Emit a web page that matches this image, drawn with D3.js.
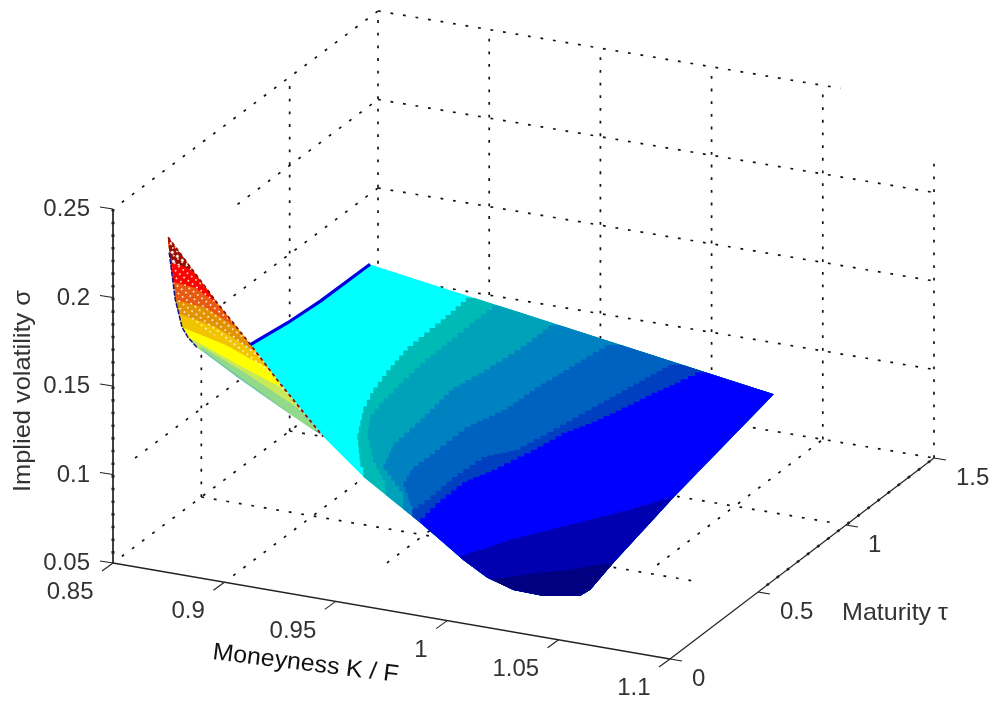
<!DOCTYPE html>
<html>
<head>
<meta charset="utf-8">
<script src="https://cdn.jsdelivr.net/npm/d3@7/dist/d3.min.js"></script>
<style>
html,body{margin:0;padding:0;background:#fff}
svg{display:block;filter:blur(.45px)}
text{font-family:"Liberation Sans",Arial,sans-serif;font-size:24px;fill:#333}
</style>
</head>
<body>
<script>
// ---- axis values
const moneynessTicks = [0.85, 0.9, 0.95, 1, 1.05, 1.1];
const maturityTicks = [0, 0.5, 1, 1.5];
const volTicks = [0.05, 0.1, 0.15, 0.2, 0.25];
const moneynessLabels = ["0.85", "0.9", "0.95", "1", "1.05", "1.1"];
const maturityLabels = ["0", "0.5", "1", "1.5"];
const volLabels = ["0.05", "0.1", "0.15", "0.2", "0.25"];

// ---- extent of the dotted grid lines as they appear in the picture
const floorKRange = [[0.9, 0.05, 1.5], [0.95, 0.29, 1.5], [1, 0.5, 1.5], [1.05, 0.56, 1.5]];
const floorTauRange = [[0.5, 0.85, 1.072], [1, 0.85, 1.096], [1.5, 0.85, 1.1]];
const leftWallVolRange = [[0.05, 0.05, 1.5], [0.1, 0.125, 1.5], [0.15, 0.625, 1.5], [0.2, 0.705, 1.5], [0.25, 0.05, 1.5]];
const leftWallTauRange = [[0.5, 0.05, 0.135], [1, 0.05, 0.25], [1.5, 0.05, 0.25]];
const backWallVolRange = [[0.1, 0.85, 1.1], [0.15, 0.85, 1.1], [0.2, 0.85, 1.1], [0.25, 0.85, 1.058]];
const backWallKRange = [[0.9, 0.05, 0.25], [0.95, 0.05, 0.25], [1, 0.05, 0.25], [1.05, 0.05, 0.25], [1.1, 0.05, 0.2204]];

// ---- surface outline: [moneyness, maturity, vol]
const sheetEdge = [[0.85,0.778,0.1154],[0.85,0.989,0.112],[0.85,1.176,0.1104],[0.85,1.455,0.1103],[1.0315,1.455,0.075],
  [1.0383,0.8,0.0675],[1.043,0.4,0.0618],[1.0421,0.28,0.0554],[1.0424,0.22,0.0566],[1.0274,0.2,0.0548],[1.0178,0.15,0.0599],
  [1.0101,0.1,0.0688],[0.9993,0.1,0.0766],[0.989,0.1,0.0857],[0.98,0.1,0.0934],[0.9544,0.1,0.1139],[0.9364,0.1,0.1326],[0.8796,0.5576,0.118]];
const wingEdge = [[0.8668,0.1,0.2302],[0.8673,0.1,0.2217],[0.87,0.1,0.1958],[0.8731,0.1,0.1806],[0.8758,0.1,0.1755],[0.8798,0.1,0.1707],[0.8991,0.1,0.1568],
  [0.9185,0.1,0.144],[0.9364,0.1,0.1326],[0.8796,0.5576,0.118],[0.85,0.778,0.1154],[0.85,0.5909,0.1527]];
const smileFarEdge = [[0.8668,0.1,0.2302],[0.85,0.5909,0.1527],[0.85,0.778,0.1154],[0.8796,0.5576,0.118],[0.9364,0.1,0.1326]];
const smileNearEdge = [[0.8673,0.1,0.2217],[0.87,0.1,0.1958],[0.8731,0.1,0.1806],[0.8758,0.1,0.1755],[0.8798,0.1,0.1707]];
const longEndEdge = [[0.85,0.778,0.1154],[0.85,0.989,0.112],[0.85,1.176,0.1104],[0.85,1.455,0.1103]];

// ---- colour bands on the sheet: iso-vol levels, [moneyness, maturity]
const sheetLevels = [0.101, 0.0985, 0.0933, 0.0886, 0.0834, 0.0806, 0.0675, 0.0618];
const sheetColors = ["#00ffff", "#00bab6", "#00a2ba", "#0082c0", "#0062c0", "#0040c0", "#0000ff", "#0000b0", "#000080"];
const iso1010 = [[0.8954,1.4539],[0.897,1.2631],[0.898,1.063],[0.9015,0.9226],[0.9064,0.7638],[0.9124,0.6309],[0.9233,0.4592],[0.9375,0.2971],[0.9434,0.2391]];
const iso0985 = [[0.907,1.4605],[0.9071,1.363],[0.9079,1.2224],[0.9082,1.0653],[0.9104,0.8838],[0.9128,0.7402],[0.9162,0.6225],[0.9248,0.4969],[0.9381,0.3624],[0.9542,0.2282]];
const iso0933 = [[0.9328,1.4534],[0.9328,1.2655],[0.9304,1.0857],[0.9276,0.9499],[0.9315,0.7131],[0.9333,0.5377],[0.9408,0.3863],[0.9611,0.2421]];
const iso0886 = [[0.9593,1.442],[0.957,1.3001],[0.954,1.111],[0.953,0.9353],[0.9477,0.7922],[0.9479,0.6197],[0.9477,0.4688],[0.9523,0.3542],[0.9677,0.2106]];
const iso0834 = [[0.9875,1.4424],[0.9835,1.2654],[0.9801,1.105],[0.9761,0.9055],[0.9727,0.7605],[0.964,0.6828],[0.9627,0.5287],[0.964,0.3594],[0.9637,0.2608]];
const iso0806 = [[0.9996,1.4542],[0.9964,1.3698],[0.9928,1.2843],[0.9899,1.1855],[0.9849,1.0434],[0.9793,0.9444],[0.9765,0.8087],[0.9716,0.644],[0.9664,0.5389],[0.9667,0.3818],[0.9691,0.2382]];
const iso0675 = [[1.0383,0.8001],[1.0295,0.6844],[1.0197,0.5809],[1.0099,0.4775],[1.0001,0.374],[0.994,0.2811],[0.9895,0.2079]];
const iso0618 = [[1.043,0.4004],[1.0317,0.3153],[1.0211,0.2621],[1.0132,0.2091],[1.0062,0.1665]];
const sheetContours = [iso1010, iso0985, iso0933, iso0886, iso0834, iso0806, iso0675, iso0618];

// ---- colour bands on the short-dated wing: [moneyness, maturity, vol]
const wingBase = "#6ec8a8";
const wingColors = ["#92d98a", "#c8ea5a", "#ffff00", "#f2c400", "#e39200", "#e85a10", "#ff0000", "#9a0a00"];
const wingA = [[0.8834,0.1,0.1692],[0.9002,0.2,0.1427],[0.9157,0.3,0.117]];
const wingB = [[0.8825,0.1,0.1713],[0.8926,0.2,0.1524],[0.9103,0.3,0.1272]];
const wingC = [[0.878,0.1,0.1749],[0.8912,0.2,0.1554],[0.9036,0.3,0.137]];
const wingD = [[0.8722,0.1,0.1809],[0.8845,0.2,0.1659],[0.8968,0.3,0.1469]];
const wingE = [[0.8704,0.1,0.1884],[0.88,0.2,0.1751],[0.8887,0.3,0.1565]];
const wingF = [[0.8695,0.1,0.1956],[0.8755,0.2,0.1849],[0.8811,0.3,0.1678]];
const wingLevelG = [[0.8682,0.1,0.2056],[0.871,0.2,0.1952],[0.8752,0.3,0.1779]];
const wingH = [[0.8664,0.1,0.2165],[0.8719,0.2,0.2045]];
const wingContours = [wingA, wingB, wingC, wingD, wingE, wingF, wingLevelG, wingH];
const meshHoleEdge = [[0.8708,0.1,0.1886],[0.8881,0.2,0.1655],[0.8982,0.3,0.1415],[0.9202,0.3,0.1146]];

// ---- projection of the MATLAB view, built from d3 scales
const W = 994, H = 706;
const xFront = d3.scaleLinear().domain([0.85, 1.1]).range([113, 670]);
const xBack  = d3.scaleLinear().domain([0.85, 1.1]).range([378, 934]);
const yFront = d3.scaleLinear().domain([0.85, 1.1]).range([563, 659]);
const yBack  = d3.scaleLinear().domain([0.85, 1.1]).range([365, 458]);
const tauT   = d3.scaleLinear().domain([0, 1.5]).range([0, 1]);
const volDy  = d3.scaleLinear().domain([0.05, 0.25]).range([0, -354]);
function proj(K, tau, vol) {
  const t = tauT(tau);
  return [d3.interpolateNumber(xFront(K), xBack(K))(t),
          d3.interpolateNumber(yFront(K), yBack(K))(t) + volDy(vol)];
}
const P = p => proj(p[0], p[1], p[2]);

const svg = d3.select("body").append("svg").attr("width", W).attr("height", H);
const defs = svg.append("defs");
const poly = d3.line();
const closed = pts => poly(pts) + "Z";

// ---- grid
const gridLayer = svg.append("g").attr("fill", "none").attr("stroke", "#111")
  .attr("stroke-width", 1.7).attr("stroke-dasharray", "2.8 9.87");
function dotted(a, b) { gridLayer.append("path").attr("d", poly([a, b])); }
floorKRange.forEach(([k, a, b]) => dotted(proj(k, a, 0.05), proj(k, b, 0.05)));
floorTauRange.forEach(([t, a, b]) => dotted(proj(a, t, 0.05), proj(b, t, 0.05)));
leftWallVolRange.forEach(([v, a, b]) => dotted(proj(0.85, a, v), proj(0.85, b, v)));
leftWallTauRange.forEach(([t, a, b]) => dotted(proj(0.85, t, a), proj(0.85, t, b)));
backWallVolRange.forEach(([v, a, b]) => dotted(proj(a, 1.5, v), proj(b, 1.5, v)));
backWallKRange.forEach(([k, a, b]) => dotted(proj(k, 1.5, a), proj(k, 1.5, b)));

// ---- axes
const axisLayer = svg.append("g").attr("fill", "none").attr("stroke", "#222");
const axisLine = (a, b, w) => axisLayer.append("path").attr("d", poly([a, b])).attr("stroke-width", w);
axisLine(proj(0.85, 0, 0.05), proj(1.1, 0, 0.05), 1.5);
axisLine(proj(1.1, 0, 0.05), proj(1.1, 1.5, 0.05), 1.2);
axisLine(proj(0.85, 0, 0.05), proj(0.85, 0, 0.25), 1.7);
axisLayer.append("path").attr("d", poly([proj(1.1, 0.55, 0.05), proj(1.1, 1.5, 0.05)]))
  .attr("stroke-width", 2.6).attr("stroke-dasharray", "2.6 10.07");
axisLayer.append("path").attr("d", poly([proj(0.85, 0, 0.25), proj(0.85, 0, 0.05)]))
  .attr("stroke-width", 3).attr("stroke-dasharray", "2.6 10.07");
moneynessTicks.forEach(k => { const p = proj(k, 0, 0.05); axisLine(p, [p[0] - 11, p[1] + 8], 1.1); });
maturityTicks.forEach(t => { const p = proj(1.1, t, 0.05); axisLine(p, [p[0] + 12, p[1] + 2], 1.2); });
volTicks.forEach(v => { const p = proj(0.85, 0, v); axisLine(p, [p[0] - 13, p[1] - 2], 1.2); });

// ---- surface
defs.append("clipPath").attr("id", "sheetClip").append("path").attr("d", closed(sheetEdge.map(P)));
defs.append("clipPath").attr("id", "wingClip").append("path").attr("d", closed(wingEdge.map(P)));
const stepLine = d3.line().curve(d3.curveStepAfter);
function stairs(pts, pitch) {          // draws a band border with the jagged look of the coarse mesh
  const out = [];
  pts.slice(1).forEach((q, i) => {
    const p = pts[i], n = Math.max(1, Math.round(Math.hypot(q[0] - p[0], q[1] - p[1]) / pitch));
    d3.range(n).forEach(j => out.push([p[0] + (q[0] - p[0]) * j / n, p[1] + (q[1] - p[1]) * j / n]));
  });
  out.push(pts[pts.length - 1]);
  return stepLine(out);
}
const sheetLayer = svg.append("g").attr("clip-path", "url(#sheetClip)");
sheetLayer.append("path").attr("d", closed(sheetEdge.map(P))).attr("fill", sheetColors[0]);
sheetContours.forEach((c, i) => {
  const pts = c.map(d => proj(d[0], d[1], sheetLevels[i]));
  const first = pts[0], last = pts[pts.length - 1];
  const border = stairs(pts, 7);
  sheetLayer.append("path")
    .attr("d", border + "L" + [last[0], H] + "L" + [W, H] + "L" + [W, first[1]] + "Z")
    .attr("fill", sheetColors[i + 1]);
});

// mesh holes of the wing
function dotPattern(id, size, r) {
  const pat = defs.append("pattern").attr("id", id).attr("patternUnits", "userSpaceOnUse")
    .attr("width", size).attr("height", size).attr("patternTransform", "rotate(38)");
  pat.append("circle").attr("cx", size / 2).attr("cy", size / 2).attr("r", r).attr("fill", "#fff");
}
dotPattern("holes", 5.4, 0.9);
dotPattern("bigHoles", 6.4, 1.55);

const wingLayer = svg.append("g").attr("clip-path", "url(#wingClip)");
wingLayer.append("path").attr("d", closed(wingEdge.map(P))).attr("fill", wingBase);
const aboveContour = pts => {
  const a = pts[0], b = pts[pts.length - 1];
  return poly(pts) + "L" + [W / 2, b[1]] + "L" + [W / 2, 100] + "L" + [0, 100] + "L" + [0, a[1]] + "Z";
};
wingContours.forEach((c, i) => {
  wingLayer.append("path").attr("d", aboveContour(c.map(P))).attr("fill", wingColors[i]);
});
wingLayer.append("path").attr("d", aboveContour(meshHoleEdge.map(P))).attr("fill", "url(#holes)");
wingLayer.append("path").attr("d", aboveContour(wingH.map(P))).attr("fill", "url(#bigHoles)");

svg.append("path").attr("d", poly(smileFarEdge.map(P))).attr("fill", "none").attr("stroke", "#8a1000")
  .attr("stroke-width", 1.8).attr("stroke-dasharray", "3.4 3.2");
svg.append("path").attr("d", poly(smileNearEdge.map(P))).attr("fill", "none").attr("stroke", "#10108c")
  .attr("stroke-width", 1.5).attr("stroke-dasharray", "5 1.4");
svg.append("path").attr("d", poly(longEndEdge.map(P))).attr("fill", "none").attr("stroke", "#0000e0")
  .attr("stroke-width", 3.2);

// ---- tick labels and titles
const textLayer = svg.append("g");
moneynessTicks.forEach((k, i) => {
  const p = proj(k, 0, 0.05);
  textLayer.append("text").attr("x", p[0] - 19.5).attr("y", p[1] + 27.5).attr("dy", "0.36em")
    .attr("text-anchor", "end").text(moneynessLabels[i]);
});
maturityTicks.forEach((t, i) => {
  const p = proj(1.1, t, 0.05);
  textLayer.append("text").attr("x", p[0] + 22).attr("y", p[1] + 18).attr("dy", "0.36em").text(maturityLabels[i]);
});
volTicks.forEach((v, i) => {
  const p = proj(0.85, 0, v);
  textLayer.append("text").attr("x", 90).attr("y", p[1] - 1.5).attr("dy", "0.36em")
    .attr("text-anchor", "end").text(volLabels[i]);
});
defs.append("clipPath").attr("id", "titleClip").append("rect")
  .attr("x", 0).attr("y", 0).attr("width", W).attr("height", 681);
textLayer.append("g").attr("clip-path", "url(#titleClip)").append("text")
  .attr("transform", "translate(212,659) rotate(7)")
  .attr("textLength", 187).attr("lengthAdjust", "spacingAndGlyphs").style("fill", "#111")
  .text("Moneyness K / F");
textLayer.append("text").attr("transform", "translate(30,492) rotate(-90)")
  .attr("textLength", 202).attr("lengthAdjust", "spacingAndGlyphs").text("Implied volatility σ");
textLayer.append("text").attr("x", 842).attr("y", 620)
  .attr("textLength", 106).attr("lengthAdjust", "spacingAndGlyphs").text("Maturity τ");
</script>
</body>
</html>
